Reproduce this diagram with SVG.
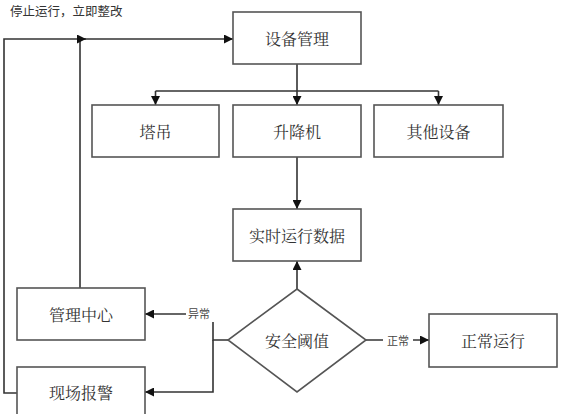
<svg xmlns="http://www.w3.org/2000/svg" width="561" height="414" viewBox="0 0 561 414">
<defs>
<marker id="ah" viewBox="0 0 10 10" refX="10" refY="5" markerWidth="9" markerHeight="9" markerUnits="userSpaceOnUse" orient="auto">
<path d="M0,0 L10,5 L0,10 z" fill="#111"/>
</marker>
<style>
.box{fill:#fff;stroke:#555;stroke-width:1.6}
.t{font-family:"Noto Serif CJK SC","Noto Sans CJK SC",sans-serif;font-size:16px;fill:#333;text-anchor:middle;dominant-baseline:central}
.s{font-family:"Noto Sans CJK SC",sans-serif;font-size:11px;fill:#444;text-anchor:middle;dominant-baseline:central}
.c{fill:none;stroke:#333;stroke-width:1.6}
</style>
</defs>
<rect width="561" height="414" fill="#fff"/>
<g id="connectors">
<path class="c" d="M17,393 H4 V39 H233" marker-end="url(#ah)"/>
<path class="c" d="M80,288 V39 H86" marker-end="url(#ah)"/>
<path class="c" d="M297,64 V105" marker-end="url(#ah)"/>
<path class="c" d="M155.5,91 H438.5"/>
<path class="c" d="M155.5,91 V105" marker-end="url(#ah)"/>
<path class="c" d="M438.5,91 V105" marker-end="url(#ah)"/>
<path class="c" d="M297,157 V209" marker-end="url(#ah)"/>
<path class="c" d="M297,289 V261" marker-end="url(#ah)"/>
<path class="c" d="M366,340 H429" marker-end="url(#ah)"/>
<path class="c" d="M228,340 H213 V322"/>
<path class="c" d="M186,314 H145" marker-end="url(#ah)"/>
<path class="c" d="M213,340 V392 H145" marker-end="url(#ah)"/>
<rect x="383" y="333" width="30" height="14" fill="#fff"/>
<text class="s" x="398" y="340">正常</text>
<text class="s" x="199" y="313">异常</text>
<text x="10" y="16" style="font-family:'Noto Sans CJK SC',sans-serif;font-size:12.5px;fill:#333">停止运行，立即整改</text>
</g>
<g id="n-sbgl"><rect class="box" x="233" y="12" width="128" height="52"/><text class="t" x="297" y="38">设备管理</text></g>
<g id="n-td"><rect class="box" x="92" y="105" width="127" height="52"/><text class="t" x="155.5" y="131">塔吊</text></g>
<g id="n-sjj"><rect class="box" x="233" y="105" width="128" height="52"/><text class="t" x="297" y="131">升降机</text></g>
<g id="n-qt"><rect class="box" x="374" y="105" width="129" height="52"/><text class="t" x="438.5" y="131">其他设备</text></g>
<g id="n-ss"><rect class="box" x="233" y="209" width="128" height="52"/><text class="t" x="297" y="235">实时运行数据</text></g>
<g id="n-aq"><polygon class="box" points="297,289 366,340 297,392 228,340"/><text class="t" x="297" y="340">安全阈值</text></g>
<g id="n-zc"><rect class="box" x="429" y="314" width="128" height="53"/><text class="t" x="493" y="340">正常运行</text></g>
<g id="n-glzx"><rect class="box" x="17" y="288" width="128" height="52"/><text class="t" x="81" y="314">管理中心</text></g>
<g id="n-xcbj"><rect class="box" x="17" y="367" width="128" height="52"/><text class="t" x="81" y="392">现场报警</text></g>
</svg>
